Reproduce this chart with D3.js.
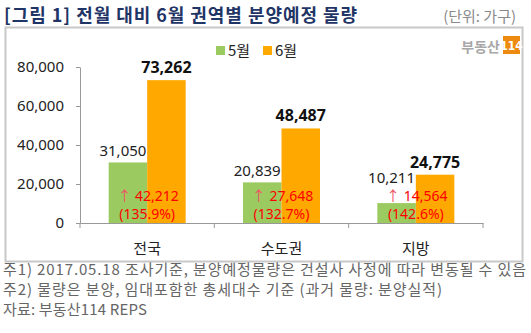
<!DOCTYPE html>
<html><head><meta charset="utf-8">
<script src="https://cdn.jsdelivr.net/npm/d3@7"></script>
<style>
body{margin:0;background:#fff;}
svg{display:block;font-family:"Noto Sans CJK KR","Noto Sans",sans-serif;}
</style></head>
<body><svg id="c" width="531" height="333"></svg>
<script>
const categories = ["전국", "수도권", "지방"];
const seriesNames = ["5월", "6월"];
const may = [31050, 20839, 10211];
const june = [73262, 48487, 24775];
const diffs = ["42,212", "27,648", "14,564"];
const pcts = ["(135.9%)", "(132.7%)", "(142.6%)"];
const yTicks = [0, 20000, 40000, 60000, 80000];
const notes = [
  "주1) 2017.05.18 조사기준, 분양예정물량은 건설사 사정에 따라 변동될 수 있음",
  "주2) 물량은 분양, 임대포함한 총세대수 기준 (과거 물량: 분양실적)",
  "자료: 부동산114 REPS"
];
const colors = ["#9BCB60", "#FFA800"];

const svg = d3.select("#c");
// title
svg.append("text").attr("x", 4).attr("y", 22).attr("font-size", 18).attr("font-weight", "bold")
  .attr("fill", "#1F3566").attr("textLength", 353).attr("lengthAdjust", "spacing")
  .text("[그림 1] 전월 대비 6월 권역별 분양예정 물량");
svg.append("text").attr("x", 516).attr("y", 22).attr("text-anchor", "end").attr("font-size", 15)
  .attr("fill", "#8a8a8a").text("(단위: 가구)");
// frame
svg.append("rect").attr("x", 5.5).attr("y", 27.5).attr("width", 517).attr("height", 234)
  .attr("fill", "none").attr("stroke", "#c8c8c8").attr("stroke-width", 2);

const x = d3.scaleBand().domain(categories).range([80, 483]);
const y = d3.scaleLinear().domain([0, 80000]).range([223, 67]);
const barW = 38.5;

// axes
const ga = svg.append("g").attr("transform", "translate(80,0)")
  .call(d3.axisLeft(y).tickValues(yTicks).tickFormat(d3.format(",")).tickSize(4).tickSizeOuter(0));
ga.select(".domain").attr("stroke", "#999");
ga.selectAll(".tick line").attr("stroke", "#999");
ga.selectAll("text").attr("font-size", 15).attr("fill", "#222").attr("font-family", "'Noto Sans','Noto Sans CJK KR',sans-serif").attr("x", -16);

const gx = svg.append("g").attr("transform", "translate(0,223)")
  .call(d3.axisBottom(x).tickSize(0).tickPadding(0));
gx.select(".domain").attr("stroke", "#999");
gx.selectAll(".tick text").remove();
// category boundary ticks
const bounds = [x.range()[0]].concat(categories.map(c => x(c) + x.bandwidth()));
gx.selectAll("line.bt").data(bounds).enter().append("line").attr("class", "bt")
  .attr("x1", d => d).attr("x2", d => d).attr("y1", 0).attr("y2", 5).attr("stroke", "#999");

// category labels
svg.selectAll("text.cat").data(categories).enter().append("text").attr("class", "cat")
  .attr("x", d => x(d) + x.bandwidth() / 2).attr("y", 254).attr("text-anchor", "middle")
  .attr("font-size", 15).attr("fill", "#222").text(d => d);

// bars
const cx = i => x(categories[i]) + x.bandwidth() / 2;
svg.selectAll("rect.may").data(may).enter().append("rect").attr("class", "may")
  .attr("x", (d, i) => cx(i) - barW).attr("width", barW)
  .attr("y", d => y(d)).attr("height", d => y(0) - y(d)).attr("fill", colors[0]);
svg.selectAll("rect.jun").data(june).enter().append("rect").attr("class", "jun")
  .attr("x", (d, i) => cx(i)).attr("width", barW)
  .attr("y", d => y(d)).attr("height", d => y(0) - y(d)).attr("fill", colors[1]);

// value labels
svg.selectAll("text.vm").data(may).enter().append("text").attr("class", "vm")
  .attr("x", (d, i) => cx(i) - barW / 2 - 5).attr("y", d => Math.min(y(d) - 6, 183)).attr("text-anchor", "middle")
  .attr("font-size", 15).attr("fill", "#222").attr("font-family", "'Noto Sans',sans-serif")
  .text(d => d3.format(",")(d));
svg.selectAll("text.vj").data(june).enter().append("text").attr("class", "vj")
  .attr("x", (d, i) => cx(i) + barW / 2).attr("y", d => y(d) - 7).attr("text-anchor", "middle")
  .attr("font-size", 16).attr("font-weight", "bold").attr("fill", "#111").attr("font-family", "'Noto Sans',sans-serif")
  .text(d => d3.format(",")(d));

// red annotations
diffs.forEach((d, i) => {
  const t = svg.append("text").attr("x", cx(i) + 1).attr("y", 201).attr("text-anchor", "middle")
    .attr("font-size", 14).attr("fill", "#FF0000").attr("font-family", "'Noto Sans','Noto Sans CJK KR',sans-serif");
  t.append("tspan").attr("fill", "#F05060").text("↑ ");
  t.append("tspan").text(d);
  svg.append("text").attr("x", cx(i)).attr("y", 219).attr("text-anchor", "middle")
    .attr("font-size", 14).attr("fill", "#FF0000").attr("font-family", "'Noto Sans',sans-serif").text(pcts[i]);
});

// legend
const lg = svg.append("g");
[[216, 0], [263, 1]].forEach(([lx, i]) => {
  lg.append("rect").attr("x", lx).attr("y", 46).attr("width", 9).attr("height", 9).attr("fill", colors[i]);
  lg.append("text").attr("x", lx + 12).attr("y", 56).attr("font-size", 15).attr("fill", "#222").text(seriesNames[i]);
});

// logo
svg.append("text").attr("x", 500).attr("y", 52).attr("text-anchor", "end").attr("font-size", 14)
  .attr("font-weight", "bold").attr("fill", "#a8a8a8").text("부동산");
svg.append("rect").attr("x", 503).attr("y", 36).attr("width", 17).attr("height", 18).attr("fill", "#EE8A10");
svg.append("text").attr("x", 511.5).attr("y", 50).attr("text-anchor", "middle").attr("font-size", 12)
  .attr("font-weight", "bold").attr("fill", "#fff").attr("font-family", "'Liberation Sans Narrow','DejaVu Sans Condensed',sans-serif").text("114");

// notes
const noteLen = [523, 439, 144];
svg.selectAll("text.note").data(notes).enter().append("text").attr("class", "note")
  .attr("x", 3).attr("y", (d, i) => 275 + i * 20).attr("font-size", 15).attr("fill", "#666")
  .attr("textLength", (d, i) => noteLen[i]).attr("lengthAdjust", "spacing").text(d => d);
</script></body></html>
